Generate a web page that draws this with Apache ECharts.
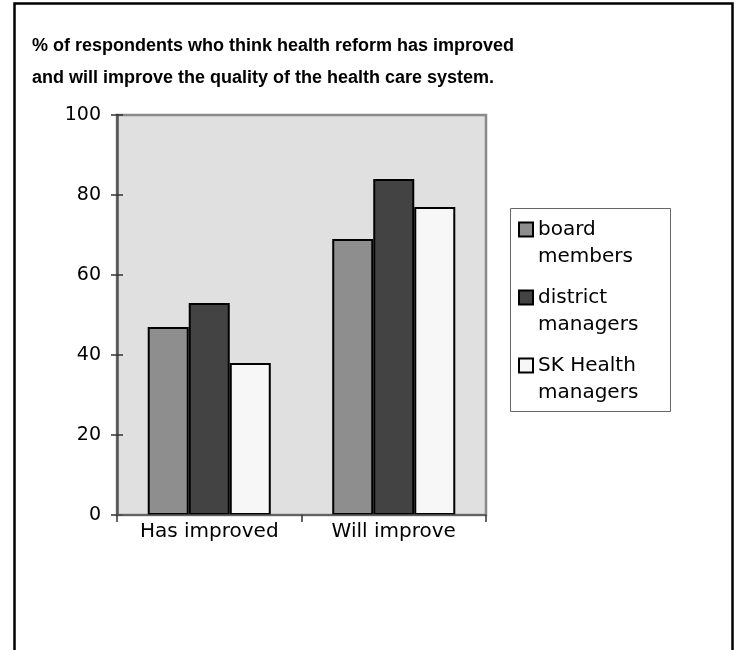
<!DOCTYPE html>
<html>
<head>
<meta charset="utf-8">
<script src="https://cdn.jsdelivr.net/npm/echarts@6/dist/echarts.min.js"></script>
<style>
  html, body { margin: 0; padding: 0; background: #ffffff; }
  #chart { width: 736px; height: 650px; }
</style>
</head>
<body>
<div id="chart"></div>
<script>
// Survey results: share of respondents (%) by group
const categories = ['Has improved', 'Will improve'];
const groupNames = ['board\nmembers', 'district\nmanagers', 'SK Health\nmanagers'];
const boardMembers = [47, 69];
const districtManagers = [53, 84];
const skHealthManagers = [38, 77];
const yTicks = { min: 0, max: 100, interval: 20 };

const fillColors = ['#8e8e8e', '#434343', '#f7f7f7'];
const seriesValues = [boardMembers, districtManagers, skHealthManagers];
const axisFont = 'DejaVu Sans';

const chart = echarts.init(document.getElementById('chart'), null, { renderer: 'canvas' });

const series = groupNames.map((name, i) => ({
  name: name,
  type: 'bar',
  data: seriesValues[i],
  barGap: '0%',
  barCategoryGap: '33.3%',
  itemStyle: { color: fillColors[i], borderColor: '#000', borderWidth: 2 }
}));

chart.setOption({
  animation: false,
  backgroundColor: '#ffffff',
  title: {
    text: '% of respondents who think health reform has improved\nand will improve the quality of the health care system.',
    left: 27,
    top: 25,
    textStyle: {
      fontFamily: 'Liberation Sans',
      fontWeight: 'bold',
      fontSize: 18,
      lineHeight: 32,
      color: '#000'
    }
  },
  grid: {
    left: 117, top: 115, right: 250, bottom: 135,
    show: true,
    backgroundColor: '#e0e0e0',
    borderColor: '#8a8a8a',
    borderWidth: 2.5
  },
  legend: {
    orient: 'vertical',
    left: 513,
    top: 184,
    itemWidth: 14,
    itemHeight: 14,
    itemGap: -13,
    icon: 'rect',
    data: groupNames,
    // a leading blank line keeps the swatch level with the first text line
    formatter: name => '\n' + name,
    itemStyle: { borderColor: '#000', borderWidth: 2 },
    textStyle: {
      fontFamily: axisFont,
      fontSize: 20,
      lineHeight: 27,
      color: '#000'
    }
  },
  xAxis: {
    type: 'category',
    data: categories,
    axisLine: { show: true, lineStyle: { color: '#555', width: 1.5 } },
    axisTick: { show: true, length: 7, lineStyle: { color: '#333', width: 1.5 } },
    axisLabel: { fontFamily: axisFont, fontSize: 20, color: '#000', margin: 7 },
    z: 5
  },
  yAxis: [
    {
      type: 'value',
      min: yTicks.min, max: yTicks.max, interval: yTicks.interval,
      splitLine: { show: false },
      axisLine: { show: true, lineStyle: { color: '#555', width: 2.5 } },
      axisTick: { show: true, length: 6, lineStyle: { color: '#333', width: 1.5 } },
      axisLabel: { fontFamily: axisFont, fontSize: 19, color: '#000', margin: 16 }
    },
    {
      type: 'value',
      position: 'left',
      min: yTicks.min, max: yTicks.max, interval: yTicks.interval,
      splitLine: { show: false },
      axisLine: { show: false },
      axisTick: { show: true, inside: true, length: 6, lineStyle: { color: '#333', width: 1.5 } },
      axisLabel: { show: false }
    }
  ],
  graphic: [
    {
      type: 'rect',
      shape: { x: 14.5, y: 3.5, width: 718, height: 720 },
      style: { fill: null, stroke: '#000', lineWidth: 2.5 },
      silent: true
    },
    {
      type: 'rect',
      shape: { x: 510.5, y: 208.5, width: 160, height: 203 },
      style: { fill: '#fff', stroke: '#666', lineWidth: 1 },
      z: -1,
      silent: true
    }
  ],
  series: series
});
</script>
</body>
</html>
